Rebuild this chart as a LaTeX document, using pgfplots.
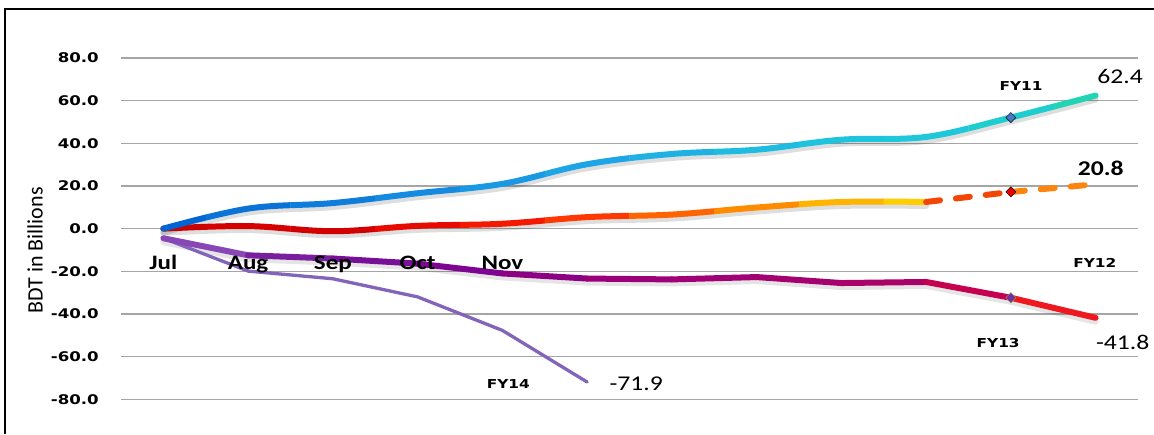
\documentclass[border=0pt]{standalone}
\usepackage{pgfplots}
\pgfplotsset{compat=1.18}
\usepackage{fontspec}
\setmainfont{Carlito}
\newfontfamily\calfont{Carlito}[FakeStretch=1.22]
\newfontfamily\calplain{Carlito}
\newfontfamily\verfont{DejaVu Sans}[FakeStretch=1.25]

\pgfplotsset{
  colormap={fytwod}{rgb255=(230,40,0) rgb255=(230,40,0) rgb255=(230,40,0) rgb255=(230,40,0) rgb255=(230,40,0) rgb255=(230,40,0) rgb255=(230,40,0) rgb255=(230,40,0) rgb255=(230,40,0) rgb255=(235,40,0) rgb255=(250,100,10) rgb255=(255,165,20)},
  colormap={fythree}{rgb255=(150,100,200) rgb255=(125,40,165) rgb255=(120,20,155) rgb255=(120,10,150) rgb255=(130,0,140) rgb255=(150,0,125) rgb255=(160,0,120) rgb255=(165,0,115) rgb255=(165,0,110) rgb255=(175,0,100) rgb255=(220,0,60) rgb255=(255,50,0)},
}
% FY11 colours per month
\definecolor{a0}{RGB}{0,100,210}
\definecolor{a1}{RGB}{10,115,215}
\definecolor{a2}{RGB}{15,125,220}
\definecolor{a3}{RGB}{20,138,225}
\definecolor{a4}{RGB}{25,152,228}
\definecolor{a5}{RGB}{30,165,230}
\definecolor{a6}{RGB}{30,178,228}
\definecolor{a7}{RGB}{30,188,225}
\definecolor{a8}{RGB}{30,195,222}
\definecolor{a9}{RGB}{30,200,218}
\definecolor{a10}{RGB}{30,205,205}
\definecolor{a11}{RGB}{35,212,180}
% FY12 colours per month
\definecolor{b0}{RGB}{200,0,0}
\definecolor{b1}{RGB}{215,0,0}
\definecolor{b2}{RGB}{210,0,0}
\definecolor{b3}{RGB}{230,10,0}
\definecolor{b4}{RGB}{245,25,0}
\definecolor{b5}{RGB}{255,55,0}
\definecolor{b6}{RGB}{255,100,0}
\definecolor{b7}{RGB}{255,140,0}
\definecolor{b8}{RGB}{255,180,0}
\definecolor{b9}{RGB}{255,205,0}

\pgfplotstableread{
x y
0 0
1 9.4
2 12.0
3 16.6
4 21.0
5 30.2
6 35.0
7 37.0
8 41.7
9 43.0
10 52.1
11 62.4
}\fyone
\pgfplotstableread{
x y
0 0
1 1.2
2 -1.2
3 1.3
4 2.3
5 5.4
6 6.6
7 9.9
8 12.5
9 12.5
}\fytwo
\pgfplotstableread{
x y
9 12.5
10 17.2
11 20.8
}\fytwod
\pgfplotstableread{
x y
0 -4.5
1 -12.5
2 -14.0
3 -16.4
4 -21.0
5 -23.4
6 -23.8
7 -22.7
8 -25.5
9 -25.0
10 -32.4
11 -41.8
}\fythree
\pgfplotstableread{
x y
0 -4.5
1 -19.9
2 -23.5
3 -32.0
4 -47.7
5 -71.9
}\fyfour

\definecolor{gridc}{RGB}{165,165,165}
\definecolor{fyfourc}{RGB}{130,100,185}

\begin{document}
\begin{tikzpicture}[x=1pt,y=1pt]
\useasboundingbox (0,0) rectangle (1154,434);
\draw[line width=2pt] (5,0) -- (5,425) -- (1154,425);
\begin{axis}[
  at={(121pt,34.7pt)}, anchor=south west,
  scale only axis, width=1017pt, height=341.3pt,
  xmin=-0.5, xmax=11.5, ymin=-80, ymax=80,
  clip=false,
  axis line style={draw=none},
  major tick length=0pt,
  xtick=\empty,
  ytick={-80,-60,-40,-20,0,20,40,60,80},
  yticklabels={{-80.0},{-60.0},{-40.0},{-20.0},{0.0},{20.0},{40.0},{60.0},{80.0}},
  yticklabel style={font=\verfont\bfseries\fontsize{13.3}{15}\selectfont, anchor=east, inner sep=0pt, xshift=-22pt},
  ymajorgrids,
  grid style={gridc, line width=1.2pt},
  point meta min=0, point meta max=11,
]
% shadows
\addplot[black, opacity=0.13, smooth, tension=0.6, line width=6pt, line cap=round, line join=round, yshift=-4pt, forget plot] table[x=x,y=y] {\fyone};
\addplot[black, opacity=0.13, smooth, tension=0.6, line width=6pt, line cap=round, line join=round, yshift=-4pt, forget plot] table[x=x,y=y] {\fytwo};
\addplot[black, opacity=0.10, line width=6pt, line cap=round, line join=round, yshift=-4pt, forget plot] table[x=x,y=y] {\fythree};
% FY14
\addplot[fyfourc, line width=3.3pt, line cap=round, line join=round] table[x=x,y=y] {\fyfour};
% FY13
\addplot[mesh, colormap name=fythree, point meta=x, line width=6pt, line cap=round, line join=round] table[x=x,y=y] {\fythree};
% FY12 (smooth, colour by month strip)
\pgfplotsinvokeforeach{0,...,9}{
  \begin{scope}
  \clip ([xshift=-42.4pt]axis cs:#1,-100) rectangle ([xshift=42.4pt]axis cs:#1,100);
  \addplot[smooth, tension=0.6, color=b#1, line width=6pt, line cap=round, line join=round, forget plot] table[x=x,y=y] {\fytwo};
  \end{scope}
}
\addplot[mesh, colormap name=fytwod, point meta=x, line width=6pt, line cap=round, dash pattern=on 14pt off 16pt] table[x=x,y=y] {\fytwod};
% FY11 (smooth, colour by month strip)
\pgfplotsinvokeforeach{0,...,11}{
  \begin{scope}
  \clip ([xshift=-42.4pt]axis cs:#1,-100) rectangle ([xshift=42.4pt]axis cs:#1,100);
  \addplot[smooth, tension=0.6, color=a#1, line width=6pt, line cap=round, line join=round, forget plot] table[x=x,y=y] {\fyone};
  \end{scope}
}
% markers
\addplot[only marks, mark=square*, mark size=3.6pt, mark options={rotate=45, fill={rgb,255:red,70;green,120;blue,200}, draw=none}] coordinates {(10,52.1)};
\addplot[only marks, mark=square*, mark size=3.6pt, mark options={rotate=45, fill={rgb,255:red,230;green,0;blue,0}, draw=none}] coordinates {(10,17.2)};
\addplot[only marks, mark=square*, mark size=3.6pt, mark options={rotate=45, fill={rgb,255:red,112;green,48;blue,160}, draw={rgb,255:red,150;green,140;blue,80}, line width=0.6pt}] coordinates {(10,-32.4)};

% month labels
\node[font=\calfont\bfseries\fontsize{20.5}{22}\selectfont, anchor=base] at (axis cs:0,-19.3) {Jul};
\node[font=\calfont\bfseries\fontsize{20.5}{22}\selectfont, anchor=base] at (axis cs:1,-19.3) {Aug};
\node[font=\calfont\bfseries\fontsize{20.5}{22}\selectfont, anchor=base] at (axis cs:2,-19.3) {Sep};
\node[font=\calfont\bfseries\fontsize{20.5}{22}\selectfont, anchor=base] at (axis cs:3,-19.3) {Oct};
\node[font=\calfont\bfseries\fontsize{20.5}{22}\selectfont, anchor=base] at (axis cs:4,-19.3) {Nov};
% series labels
\node[font=\verfont\bfseries\fontsize{12.3}{14}\selectfont] at (axis cs:10.12,66.8) {FY11};
\node[font=\calfont\fontsize{21}{24}\selectfont] at (axis cs:11.29,71.2) {62.4};
\node[font=\calfont\bfseries\fontsize{21}{24}\selectfont] at (axis cs:11.06,28.2) {20.8};
\node[font=\verfont\bfseries\fontsize{12.3}{14}\selectfont] at (axis cs:10.99,-16.2) {FY12};
\node[font=\verfont\bfseries\fontsize{12.3}{14}\selectfont] at (axis cs:9.85,-53.5) {FY13};
\node[font=\calfont\fontsize{21}{24}\selectfont] at (axis cs:11.32,-53.2) {-41.8};
\node[font=\verfont\bfseries\fontsize{12.3}{14}\selectfont] at (axis cs:4.07,-72.8) {FY14};
\node[font=\calfont\fontsize{21}{24}\selectfont] at (axis cs:5.58,-72.8) {-71.9};
% y label
\node[rotate=90, font=\calplain\fontsize{22}{24}\selectfont] at ([xshift=-86pt]axis cs:-0.5,-10.2) {BDT in Billions};
\end{axis}
\end{tikzpicture}
\end{document}
